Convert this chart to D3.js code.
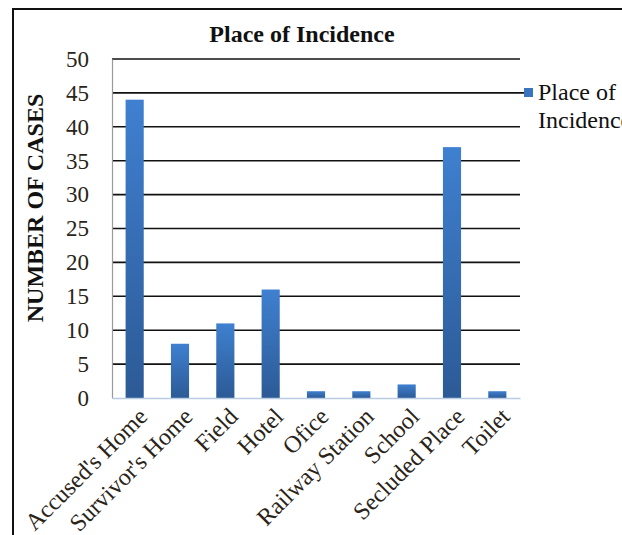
<!DOCTYPE html>
<html>
<head>
<meta charset="utf-8">
<script src="https://cdn.jsdelivr.net/npm/d3@7"></script>
<style>
  html, body { margin: 0; padding: 0; background: #fff; }
  svg { display: block; }
  text { font-family: "Liberation Serif", "Times New Roman", serif; }
</style>
</head>
<body>
<svg id="chart" width="622" height="535"></svg>
<script>
const categories = ["Accused's Home", "Survivor's Home", "Field", "Hotel", "Ofice",
                    "Railway Station", "School", "Secluded Place", "Toilet"];
const cases = [44, 8, 11, 16, 1, 1, 2, 37, 1];
const yTicks = [0, 5, 10, 15, 20, 25, 30, 35, 40, 45, 50];
const seriesName = "Place of Incidence";

const svg = d3.select("#chart");
const plot = { left: 112, right: 520, top: 59, bottom: 398 };

// Outer chart frame (runs past the right and bottom edges)
svg.append("rect")
  .attr("x", 13).attr("y", 9)
  .attr("width", 640).attr("height", 560)
  .attr("fill", "#fff").attr("stroke", "#111").attr("stroke-width", 2);

const defs = svg.append("defs");
const grad = defs.append("linearGradient")
  .attr("id", "barGrad").attr("x1", 0).attr("y1", 0).attr("x2", 0).attr("y2", 1);
grad.append("stop").attr("offset", "0%").attr("stop-color", "#3f80d0");
grad.append("stop").attr("offset", "100%").attr("stop-color", "#2c5a96");

const x = d3.scaleBand().domain(categories)
  .range([plot.left, plot.right]).paddingInner(0.6).paddingOuter(0.3);
const y = d3.scaleLinear().domain([0, 50]).range([plot.bottom, plot.top]);

// Horizontal gridlines
svg.append("g").selectAll("line")
  .data(yTicks.filter(t => t > 0))
  .join("line")
  .attr("x1", plot.left).attr("x2", d => d === 45 ? 524 : plot.right)
  .attr("y1", d => y(d)).attr("y2", d => y(d))
  .attr("stroke", "#111").attr("stroke-width", 1.6);

// Y axis
const yAxis = svg.append("g")
  .attr("transform", `translate(${plot.left},0)`)
  .call(d3.axisLeft(y).tickValues(yTicks).tickSize(0).tickPadding(23));
yAxis.select(".domain").attr("stroke", "#9a9a9a").attr("stroke-width", 1.2);
yAxis.selectAll("text")
  .attr("font-size", 23).attr("fill", "#2a2418")
  .style("font-family", "'Liberation Serif', serif");

// Bars
svg.append("g").selectAll("rect")
  .data(categories.map((c, i) => ({ c, v: cases[i] })))
  .join("rect")
  .attr("x", d => x(d.c))
  .attr("width", x.bandwidth())
  .attr("y", d => y(d.v))
  .attr("height", d => y(0) - y(d.v))
  .attr("fill", "url(#barGrad)");

// X axis baseline and labels
const xAxis = svg.append("g")
  .attr("transform", `translate(0,${plot.bottom})`)
  .call(d3.axisBottom(x).tickSize(0).tickPadding(0));
xAxis.select(".domain").attr("stroke", "#b8cce4").attr("stroke-width", 1.5);
xAxis.selectAll("text")
  .attr("font-size", 24).attr("fill", "#2a2418")
  .attr("text-anchor", "end")
  .attr("dy", 0)
  .attr("transform", "translate(14,20) rotate(-45)")
  .style("font-family", "'Liberation Serif', serif");

// Title
svg.append("text")
  .attr("x", 302).attr("y", 42)
  .attr("text-anchor", "middle")
  .attr("font-size", 24).attr("font-weight", "bold").attr("fill", "#111")
  .text(seriesName);

// Y axis title
svg.append("text")
  .attr("transform", `translate(43,208) rotate(-90)`)
  .attr("text-anchor", "middle")
  .attr("font-size", 24).attr("font-weight", "bold").attr("fill", "#111")
  .text("NUMBER OF CASES");

// Legend
const lg = svg.append("g").attr("transform", "translate(524,93)");
lg.append("rect").attr("x", 0).attr("y", -5).attr("width", 9).attr("height", 9)
  .attr("fill", "#3a74bf");
lg.append("text").attr("x", 14).attr("y", 7)
  .attr("font-size", 24).attr("fill", "#111").text("Place of");
lg.append("text").attr("x", 14).attr("y", 35)
  .attr("font-size", 24).attr("fill", "#111").text("Incidence");
</script>
</body>
</html>
